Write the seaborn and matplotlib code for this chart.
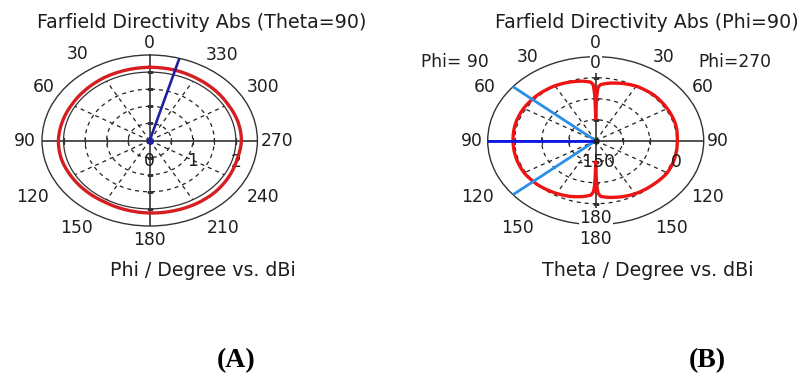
import numpy as np
import pandas as pd
import matplotlib
matplotlib.use("Agg")
import matplotlib.pyplot as plt
import seaborn as sns

# ---- data -------------------------------------------------------------
# Theta = 90 cut: directivity (dBi) versus phi (degrees)
phi_deg = [0, 15, 30, 45, 60, 75, 90, 105, 120, 135, 150, 165, 180,
           195, 210, 225, 240, 255, 270, 285, 300, 315, 330, 345, 360]
phi_cut_dbi = [2.14, 2.13, 2.12, 2.10, 2.09, 2.10, 2.12, 2.12, 2.10, 2.09, 2.08, 2.10, 2.12,
               2.13, 2.14, 2.14, 2.12, 2.10, 2.13, 2.12, 2.10, 2.11, 2.12, 2.14, 2.14]
phi_main_lobe = 344

# Phi = 90 cut: directivity (dBi) versus theta, Phi=90 half and Phi=270 half
theta_deg = [0, 1, 2, 4, 10, 20, 30, 45, 60, 75, 90, 105, 120, 135, 150, 160, 170, 176, 178, 179, 180]
phi90_dbi = [-96, -40, -16, -10, -6, -2, 1, 3, 4, 4, 3, 3, 3, 0, -5, -9, -15, -20, -28, -45, -100]
phi270_dbi = [-96, -45, -22, -16, -11, -5, 0, 3, 3, 3, 1, 2, 3, -1, -4, -8, -13, -17, -25, -45, -100]
theta_main_lobe = 90
theta_3db = [50, 130]

# axis scales and labels
a_rmin, a_rmax = 0.0, 2.5
a_rings = [0.5, 1.0, 1.5]
a_solid_ring = 2.0
a_radial_labels = [0, 1, 2]
a_angle_labels = [str(v) for v in range(0, 360, 30)]

b_rmin, b_rmax = -150.0, 50.0
b_rings = [-100, -50, 0]
b_radial_labels = [-150, 0]
b_left_labels = ["0", "30", "60", "90", "120", "150", "180"]
b_right_labels = ["30", "60", "90", "120", "150"]

# ---- style ------------------------------------------------------------
plt.rcParams["font.family"] = ["DejaVu Sans"]
TXT = "#1e1e1e"
FS = 12.3        # angle / radial labels
FS_TITLE = 13.7  # titles and axis captions

fig = plt.figure(figsize=(8.02, 3.8), dpi=100)
fig.patch.set_facecolor("white")

DEG = np.pi / 180.0
full = np.linspace(0, 2 * np.pi, 721)


def smooth_in_polar(line, steps=16):
    """Let the polar transform follow arcs between samples instead of chords."""
    line.recache(always=True)
    line.get_path()._interpolation_steps = steps


def polar_panel(rect, rmin, rmax, rings, solid=None, spoke_end=None):
    ax = fig.add_axes(rect, projection="polar")
    ax.set_theta_zero_location("N")
    ax.set_theta_direction(1)
    ax.set_ylim(rmin, rmax)
    ax.set_xticks(np.arange(0, 360, 30) * DEG)
    ax.set_xticklabels([])
    ax.set_yticks([])
    ax.grid(False)
    ax.tick_params(axis="x", direction="in", length=3, width=0.8, colors="#333333")
    ax.spines["polar"].set_color("#333333")
    ax.spines["polar"].set_linewidth(1.0)
    # dashed rings
    for r in rings:
        ax.plot(full, np.full_like(full, r), color="#222222", lw=0.9,
                ls=(0, (3.2, 3.2)), zorder=1)
    if solid is not None:
        ax.plot(full, np.full_like(full, solid), color="#333333", lw=0.9, zorder=1)
    # dashed spokes
    for a in range(30, 360, 30):
        if a % 90 == 0:
            continue
        ax.plot([a * DEG, a * DEG], [rmin, spoke_end], color="#222222", lw=0.9,
                ls=(0, (3.2, 3.2)), zorder=1)
    # solid axes through the centre
    ax.plot([0, 0, np.pi], [rmax, rmin, rmax], color="#333333", lw=1.2, zorder=2)
    ax.plot([np.pi / 2, 0, 3 * np.pi / 2], [rmax, rmin, rmax], color="#333333", lw=1.2, zorder=2)
    # small ticks on the axes at each ring
    tick_r = list(rings) + ([solid] if solid is not None else [])
    for a in (90, 270):
        ax.plot([a * DEG] * len(tick_r), tick_r, ls="none", marker="|", ms=5,
                mew=0.9, color="#333333", zorder=2)
    for a in (0, 180):
        ax.plot([a * DEG] * len(tick_r), tick_r, ls="none", marker="_", ms=5,
                mew=0.9, color="#333333", zorder=2)
    ax.set_aspect("auto")
    return ax


def place(ax, rmin, rmax, angle, rn, s, **kw):
    ax.text(angle * DEG, rmin + rn * (rmax - rmin), s, ha="center", va="center",
            fontsize=FS, color=TXT, **kw)


# ---- panel A: phi cut ---------------------------------------------------
axA = polar_panel([42 / 802, 154 / 380, 215.4 / 802, 171 / 380],
                  a_rmin, a_rmax, a_rings, solid=a_solid_ring, spoke_end=a_solid_ring)

dfA = pd.DataFrame({"ang": np.array(phi_deg) * DEG, "dbi": phi_cut_dbi})
sns.lineplot(data=dfA, x="ang", y="dbi", sort=False, estimator=None, ax=axA,
             color="#d41e22", lw=2.4, zorder=4)
smooth_in_polar(axA.lines[-1])
axA.plot([phi_main_lobe * DEG, phi_main_lobe * DEG], [a_rmin, a_rmax],
         color="#1f1f9e", lw=1.9, zorder=5)
axA.plot([0], [a_rmin], marker="o", ms=4, color="#1f1f9e", zorder=6)
axA.set_ylim(a_rmin, a_rmax)
axA.set_xlabel("")
axA.set_ylabel("")

a_place = [(0, 1.14), (33.6, 1.21), (57.7, 1.17), (90, 1.16), (121.4, 1.27), (146.7, 1.23),
           (180, 1.16), (213.7, 1.23), (237.9, 1.24), (270, 1.18), (300.7, 1.225), (326.2, 1.2)]
for s, (ang, rn) in zip(a_angle_labels, a_place):
    place(axA, a_rmin, a_rmax, ang, rn, s)
for v in a_radial_labels:
    axA.annotate(str(v), xy=(270 * DEG, v), xytext=(0, -21), textcoords="offset pixels",
                 ha="center", va="center", fontsize=FS, color=TXT)

# ---- panel B: theta cut ---------------------------------------------------
axB = polar_panel([487.7 / 802, 155.3 / 380, 216 / 802, 168 / 380],
                  b_rmin, b_rmax, b_rings, spoke_end=b_rings[-1])

th = np.array(theta_deg, dtype=float)
ang_left = th * DEG                      # Phi=90 half, drawn on the left
ang_right = (360.0 - th[::-1]) * DEG     # Phi=270 half, drawn on the right
dfB = pd.DataFrame({"ang": np.concatenate([ang_left, ang_right]),
                    "dbi": np.concatenate([phi90_dbi, phi270_dbi[::-1]])})
sns.lineplot(data=dfB, x="ang", y="dbi", sort=False, estimator=None, ax=axB,
             color="#ee1414", lw=2.4, zorder=4)
smooth_in_polar(axB.lines[-1])
for t in theta_3db:
    axB.plot([t * DEG, t * DEG], [b_rmin, b_rmax], color="#2b8fe8", lw=2.0, zorder=5)
axB.plot([theta_main_lobe * DEG, theta_main_lobe * DEG], [b_rmin, b_rmax],
         color="#0b16e6", lw=2.0, zorder=5)
axB.plot([0], [b_rmin], marker="o", ms=3.5, color="#222222", zorder=6)
axB.set_ylim(b_rmin, b_rmax)
axB.set_xlabel("")
axB.set_ylabel("")

b_left_place = [(0, 1.163), (32.2, 1.177), (58.1, 1.208), (90, 1.145), (121.4, 1.287),
                (145.3, 1.264), (180, 1.17)]
b_right_place = [(327.9, 1.175), (302.7, 1.18), (270, 1.13), (237.2, 1.237), (214.2, 1.256)]
for s, (ang, rn) in zip(b_left_labels, b_left_place):
    place(axB, b_rmin, b_rmax, ang, rn, s)
for s, (ang, rn) in zip(b_right_labels, b_right_place):
    place(axB, b_rmin, b_rmax, ang, rn, s)
white = dict(facecolor="white", edgecolor="none", pad=0.5)
place(axB, b_rmin, b_rmax, 0, 0.925, "0", bbox=white, zorder=7)
place(axB, b_rmin, b_rmax, 180, 0.92, "180", bbox=white, zorder=7)
place(axB, b_rmin, b_rmax, 54.3, 1.605, "Phi= 90")
place(axB, b_rmin, b_rmax, 306, 1.594, "Phi=270")
for v in b_radial_labels:
    axB.annotate(str(v), xy=(270 * DEG, v), xytext=(0, -21), textcoords="offset pixels",
                 ha="center", va="center", fontsize=FS, color=TXT, zorder=7)

# ---- titles, axis captions and panel tags --------------------------------
def fig_text(x, y, s, **kw):
    fig.text(x / 802, 1 - y / 380, s, ha="center", va="center", **kw)

fig_text(202, 22, "Farfield Directivity Abs (Theta=90)", fontsize=FS_TITLE, color=TXT)
fig_text(647, 22, "Farfield Directivity Abs (Phi=90)", fontsize=FS_TITLE, color=TXT)
fig_text(203, 270, "Phi / Degree vs. dBi", fontsize=FS_TITLE, color=TXT)
fig_text(648, 270, "Theta / Degree vs. dBi", fontsize=FS_TITLE, color=TXT)
fig_text(236, 361, "(A)", fontsize=20, fontweight="bold", family=["Liberation Serif"], color="black")
fig_text(707, 361, "(B)", fontsize=20, fontweight="bold", family=["Liberation Serif"], color="black")

fig.savefig("out.png", dpi=100, facecolor="white")
